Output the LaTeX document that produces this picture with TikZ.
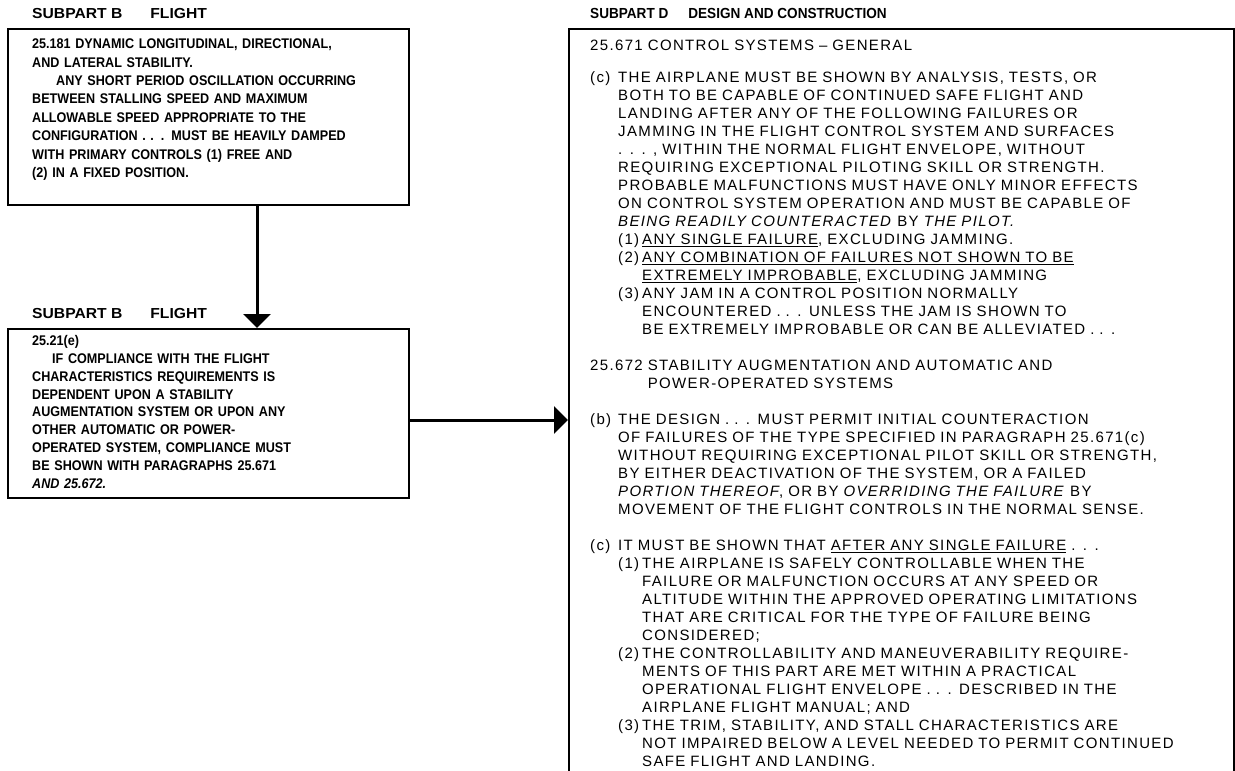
\documentclass[tikz,border=0pt]{standalone}
\usepackage{fontspec}
\usetikzlibrary{arrows.meta}
\newfontfamily\lfont[FakeStretch=1.08]{Liberation Sans}
\newfontfamily\bfont[FakeStretch=0.9]{Liberation Sans}
\newfontfamily\hfont[FakeStretch=0.93]{Liberation Sans}
\newfontfamily\rfont[LetterSpace=9]{Liberation Sans}
\newcommand\hng[2]{\makebox[#1][l]{#2}}
\begin{document}
\begin{tikzpicture}[x=1pt,y=-1pt,
  box/.style={draw, line width=1.6pt, inner sep=0pt, anchor=north west},
  lhead/.style={anchor=base west, inner sep=0pt, font=\lfont\bfseries\fontsize{14.5}{18}\selectfont},
  rhead/.style={anchor=base west, inner sep=0pt, font=\hfont\bfseries\fontsize{14.6}{18}\selectfont},
  ltext/.style={anchor=north west, inner sep=0pt, align=left, text width=370pt},
  rtext/.style={anchor=north west, inner sep=0pt, align=left, text width=640pt, font=\rfont\fontsize{15}{18}\selectfont},
  arr/.style={line width=3pt, -{Triangle[width=27pt,length=14pt]}}]
\useasboundingbox (0,0) rectangle (1235,771);
\fill[white] (0,0) rectangle (1235,771);
% boxes
\node[box, minimum width=401pt, minimum height=176pt] (top) at (7,28) {};
\node[box, minimum width=401pt, minimum height=169pt] (bot) at (7,328) {};
\node[box, minimum width=665pt, minimum height=790pt] (rbox) at (568,28) {};
% headers
\node[lhead] (h1) at (32,19) {SUBPART B\hspace{28pt}FLIGHT};
\node[lhead] (h2) at (32,318) {SUBPART B\hspace{28pt}FLIGHT};
\node[rhead] (h3) at (590,19) {SUBPART D\hspace{20pt}DESIGN AND CONSTRUCTION};
% connectors
\coordinate (ax) at (257,0);
\coordinate (ay) at (0,420);
\draw[arr] (top.south -| ax) -- (bot.north -| ax);
\draw[arr] (bot.east |- ay) -- (rbox.west |- ay);
% left texts
\node[ltext, font=\bfont\bfseries\fontsize{14}{18.4}\selectfont] (t1) at (32,35.6) {\strut 25.181 DYNAMIC LONGITUDINAL, DIRECTIONAL,\\
AND LATERAL STABILITY.\\
\hspace*{24pt}ANY SHORT PERIOD OSCILLATION OCCURRING\\
BETWEEN STALLING SPEED AND MAXIMUM\\
ALLOWABLE SPEED APPROPRIATE TO THE\\
CONFIGURATION . . . MUST BE HEAVILY DAMPED\\
WITH PRIMARY CONTROLS (1) FREE AND\\
(2) IN A FIXED POSITION.};
\node[ltext, font=\bfont\bfseries\fontsize{14}{17.8}\selectfont] (t2) at (32,333) {\strut 25.21(e)\\
\hspace*{20pt}IF COMPLIANCE WITH THE FLIGHT\\
CHARACTERISTICS REQUIREMENTS IS\\
DEPENDENT UPON A STABILITY\\
AUGMENTATION SYSTEM OR UPON ANY\\
OTHER AUTOMATIC OR POWER-\\
OPERATED SYSTEM, COMPLIANCE MUST\\
BE SHOWN WITH PARAGRAPHS 25.671\\
\textit{AND 25.672.}};
% right text
\node[rtext] (t3) at (590,37.4) {\strut 25.671 CONTROL SYSTEMS – GENERAL\\[14pt]
\hng{28pt}{(c)}THE AIRPLANE MUST BE SHOWN BY ANALYSIS, TESTS, OR\\
\hspace*{28pt}BOTH TO BE CAPABLE OF CONTINUED SAFE FLIGHT AND\\
\hspace*{28pt}LANDING AFTER ANY OF THE FOLLOWING FAILURES OR\\
\hspace*{28pt}JAMMING IN THE FLIGHT CONTROL SYSTEM AND SURFACES\\
\hspace*{28pt}. . . , WITHIN THE NORMAL FLIGHT ENVELOPE, WITHOUT\\
\hspace*{28pt}REQUIRING EXCEPTIONAL PILOTING SKILL OR STRENGTH.\\
\hspace*{28pt}PROBABLE MALFUNCTIONS MUST HAVE ONLY MINOR EFFECTS\\
\hspace*{28pt}ON CONTROL SYSTEM OPERATION AND MUST BE CAPABLE OF\\
\hspace*{28pt}\textit{BEING READILY COUNTERACTED} BY \textit{THE PILOT.}\\
\hspace*{28pt}\hng{24pt}{(1)}\underline{ANY SINGLE FAILURE}, EXCLUDING JAMMING.\\
\hspace*{28pt}\hng{24pt}{(2)}\underline{ANY COMBINATION OF FAILURES NOT SHOWN TO BE}\\
\hspace*{52pt}\underline{EXTREMELY IMPROBABLE}, EXCLUDING JAMMING\\
\hspace*{28pt}\hng{24pt}{(3)}ANY JAM IN A CONTROL POSITION NORMALLY\\
\hspace*{52pt}ENCOUNTERED . . . UNLESS THE JAM IS SHOWN TO\\
\hspace*{52pt}BE EXTREMELY IMPROBABLE OR CAN BE ALLEVIATED . . .\\[18pt]
25.672 STABILITY AUGMENTATION AND AUTOMATIC AND\\
\phantom{25.672 }POWER-OPERATED SYSTEMS\\[18pt]
\hng{28pt}{(b)}THE DESIGN . . . MUST PERMIT INITIAL COUNTERACTION\\
\hspace*{28pt}OF FAILURES OF THE TYPE SPECIFIED IN PARAGRAPH 25.671(c)\\
\hspace*{28pt}WITHOUT REQUIRING EXCEPTIONAL PILOT SKILL OR STRENGTH,\\
\hspace*{28pt}BY EITHER DEACTIVATION OF THE SYSTEM, OR A FAILED\\
\hspace*{28pt}\textit{PORTION THEREOF}, OR BY \textit{OVERRIDING THE FAILURE} BY\\
\hspace*{28pt}MOVEMENT OF THE FLIGHT CONTROLS IN THE NORMAL SENSE.\\[18pt]
\hng{28pt}{(c)}IT MUST BE SHOWN THAT \underline{AFTER ANY SINGLE FAILURE} . . .\\
\hspace*{28pt}\hng{24pt}{(1)}THE AIRPLANE IS SAFELY CONTROLLABLE WHEN THE\\
\hspace*{52pt}FAILURE OR MALFUNCTION OCCURS AT ANY SPEED OR\\
\hspace*{52pt}ALTITUDE WITHIN THE APPROVED OPERATING LIMITATIONS\\
\hspace*{52pt}THAT ARE CRITICAL FOR THE TYPE OF FAILURE BEING\\
\hspace*{52pt}CONSIDERED;\\
\hspace*{28pt}\hng{24pt}{(2)}THE CONTROLLABILITY AND MANEUVERABILITY REQUIRE-\\
\hspace*{52pt}MENTS OF THIS PART ARE MET WITHIN A PRACTICAL\\
\hspace*{52pt}OPERATIONAL FLIGHT ENVELOPE . . . DESCRIBED IN THE\\
\hspace*{52pt}AIRPLANE FLIGHT MANUAL; AND\\
\hspace*{28pt}\hng{24pt}{(3)}THE TRIM, STABILITY, AND STALL CHARACTERISTICS ARE\\
\hspace*{52pt}NOT IMPAIRED BELOW A LEVEL NEEDED TO PERMIT CONTINUED\\
\hspace*{52pt}SAFE FLIGHT AND LANDING.};
\end{tikzpicture}
\end{document}
